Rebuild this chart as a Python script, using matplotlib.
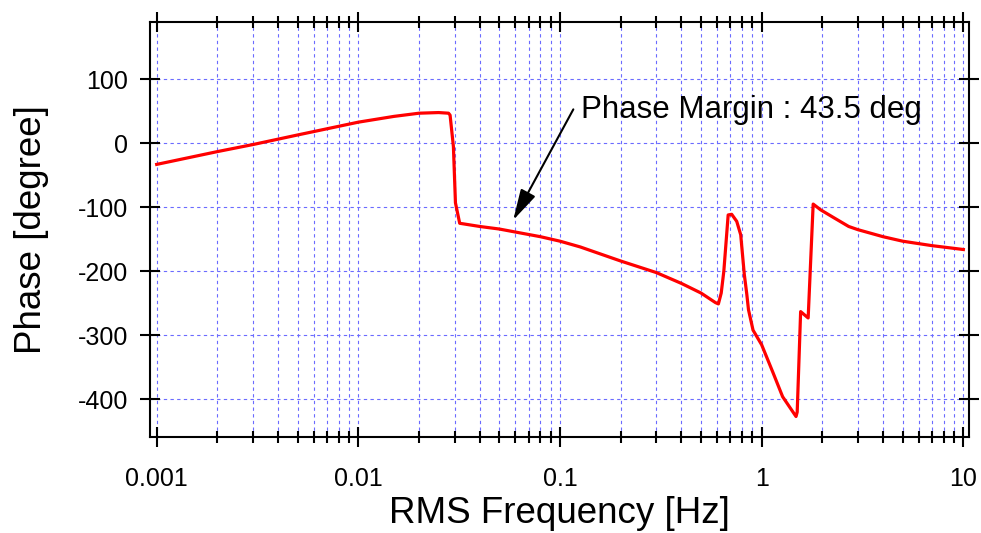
import numpy as np
import matplotlib
matplotlib.use('Agg')
import matplotlib.pyplot as plt
from matplotlib.ticker import FixedLocator, FixedFormatter, LogLocator, NullLocator

plt.rcParams['font.family'] = ['Liberation Sans', 'DejaVu Sans']
plt.rcParams['axes.unicode_minus'] = False

# phase curve
freq = [0.001, 0.002, 0.003, 0.005, 0.01, 0.015, 0.02, 0.025, 0.028, 0.0285,
        0.0296, 0.0303, 0.0318, 0.04, 0.05, 0.08, 0.1, 0.126, 0.2, 0.3,
        0.4, 0.5, 0.59, 0.61, 0.63, 0.649, 0.682, 0.71, 0.752, 0.787,
        0.82, 0.843, 0.86, 0.906, 1.0, 1.14, 1.27, 1.48, 1.50, 1.56,
        1.70, 1.80, 1.96, 2.27, 2.7, 3.0, 4.0, 5.0, 7.0, 10.0]
phase = [-33, -13, -2, 13, 33, 42, 47, 48, 47, 44,
         -5, -93, -125, -130, -134, -146, -153, -162, -184, -202,
         -219, -234, -249, -251, -234, -200, -112, -111, -122, -143,
         -205, -235, -260, -292, -315, -359, -396, -427, -420, -263,
         -273, -95, -104, -116, -130, -135, -146, -153, -160, -166]

xticks = [0.001, 0.01, 0.1, 1, 10]
xticklabels = ['0.001', '0.01', '0.1', '1', '10']
yticks = [-400, -300, -200, -100, 0, 100]

pm_text = 'Phase Margin : 43.5 deg'
pm_tip = (0.0586, -120)
pm_tail = (0.1164, 53)
pm_text_pos = (0.1266, 39)

fig = plt.figure(figsize=(9.81, 5.33), dpi=100)
ax = fig.add_axes([0.1529, 0.1801, 0.8346, 0.7792])

ax.plot(freq, phase, color='red', lw=2.3, zorder=3)

ax.set_xscale('log')
ax.set_xlim(10 ** -3.0332, 10 ** 1.0267)
ax.set_ylim(-459, 190)

ax.xaxis.set_major_locator(FixedLocator(xticks))
ax.xaxis.set_major_formatter(FixedFormatter(xticklabels))
ax.xaxis.set_minor_locator(LogLocator(base=10, subs=np.arange(2, 10), numticks=20))
ax.set_yticks(yticks)
ax.yaxis.set_minor_locator(NullLocator())

ax.grid(True, which='both', axis='x', color='#6b6bff', ls=(0, (3, 3)), lw=0.8)
ax.grid(True, which='major', axis='y', color='#6b6bff', ls=(0, (3, 3)), lw=0.8)

for s in ax.spines.values():
    s.set_linewidth(1.5)

ax.tick_params(which='both', direction='inout', top=True, right=True, width=1.5)
ax.tick_params(which='major', length=15, labelsize=18)
ax.tick_params(which='minor', length=8)
ax.tick_params(axis='y', which='major', pad=8.3)
ax.tick_params(axis='x', which='major', pad=14)

ax.set_xlabel('RMS Frequency [Hz]', fontsize=26.5, labelpad=4)
ax.set_ylabel('Phase [degree]', fontsize=26.5, labelpad=21)

ax.annotate('', xy=pm_tip, xytext=pm_tail,
            arrowprops=dict(arrowstyle='-|>,head_length=1.9,head_width=0.5',
                            color='black', lw=1.5, shrinkA=0, shrinkB=0,
                            mutation_scale=10))
ax.text(pm_text_pos[0], pm_text_pos[1], pm_text, fontsize=22.5, va='baseline', ha='left')

fig.savefig('out.png', dpi=100)
